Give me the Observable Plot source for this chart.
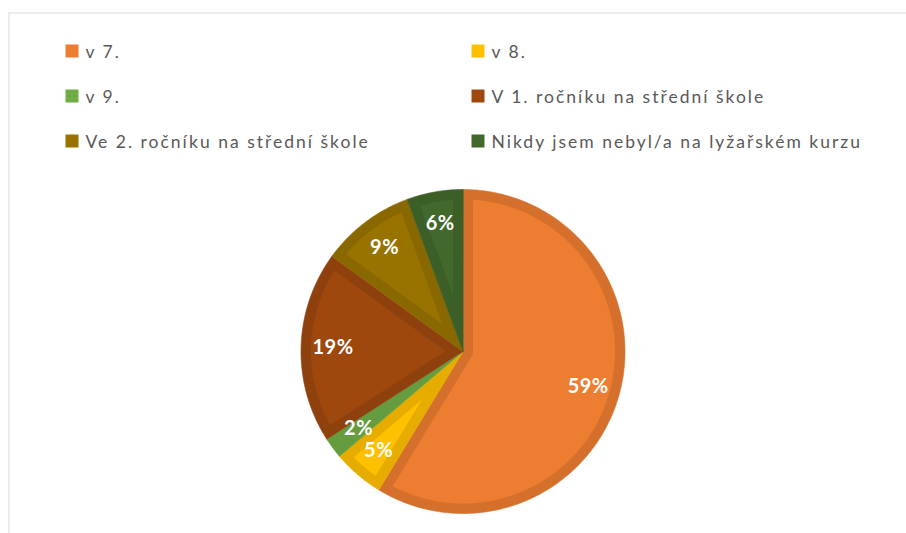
<!DOCTYPE html>
<html>
<head>
<meta charset="utf-8">
<script src="https://cdn.jsdelivr.net/npm/d3@7"></script>
<script src="https://cdn.jsdelivr.net/npm/@observablehq/plot@0.6"></script>
<style>
  html, body { margin: 0; padding: 0; background: #ffffff; }
  #chart svg { display: block; }
</style>
</head>
<body>
<div id="chart"></div>
<script>
// ---- data ----
const categories = [
  "v 7.",
  "v 8.",
  "v 9.",
  "V 1. ročníku na střední škole",
  "Ve 2. ročníku na střední škole",
  "Nikdy jsem nebyl/a na lyžařském kurzu"
];
const values = [58.7, 5.1, 2.1, 19.1, 9.4, 5.6];
const valueLabels = ["59%", "5%", "2%", "19%", "9%", "6%"];
const fillColors = ["#ED7D31", "#FFC000", "#70AD47", "#9E480E", "#997300", "#43682B"];
const borderColors = ["#D5702C", "#E6AD00", "#659C40", "#8E410D", "#8A6800", "#3C5E27"];

// ---- layout ----
const W = 906, H = 533;
const cx = 462.5, cy = 351, R = 162, labelR = 130, inset = 10;

const pie = d3.pie().sort(null).value(d => d.value);
const slices = pie(categories.map((c, i) => ({
  category: c, value: values[i], label: valueLabels[i], border: borderColors[i]
})));

const pt = (a, r) => ({x: cx + r * Math.sin(a), y: cy - r * Math.cos(a)});

// outer wedge polygons
function wedge(a0, a1, r) {
  const pts = [pt(0, 0)];
  const n = Math.max(2, Math.ceil((a1 - a0) / (Math.PI / 180)));
  for (let k = 0; k <= n; k++) pts.push(pt(a0 + (a1 - a0) * k / n, r));
  return pts;
}
// inset (fill) polygons — the wedge shrunk by the border width (miter corner at the apex)
function insetWedge(a0, a1, r, w) {
  const theta = a1 - a0, mid = (a0 + a1) / 2;
  const apexD = w / Math.sin(theta / 2);
  const ri = r - w;
  if (apexD >= ri * 0.97) return null;
  const delta = Math.asin(w / ri);
  const b0 = a0 + delta, b1 = a1 - delta;
  const pts = [pt(mid, apexD)];
  const n = Math.max(2, Math.ceil((b1 - b0) / (Math.PI / 180)));
  for (let k = 0; k <= n; k++) pts.push(pt(b0 + (b1 - b0) * k / n, ri));
  return pts;
}

const outerPts = [];
const innerPts = [];
slices.forEach(s => {
  wedge(s.startAngle, s.endAngle, R).forEach(p => outerPts.push({...p, category: s.data.category}));
  const ip = insetWedge(s.startAngle, s.endAngle, R, inset);
  if (ip) ip.forEach(p => innerPts.push({...p, category: s.data.category}));
});

const labelData = slices.map(s => {
  const a = (s.startAngle + s.endAngle) / 2;
  return {...pt(a, labelR), label: s.data.label};
});

const legend = categories.map((c, i) => ({category: c, col: i % 2, row: Math.floor(i / 2)}));
const legX = col => (col === 0 ? 72 : 478);
const legY = row => 51 + row * 45;
const sq = 6.5;

const chart = Plot.plot({
  width: W,
  height: H,
  margin: 0,
  x: {domain: [0, W], range: [0, W], axis: null},
  y: {domain: [0, H], range: [0, H], axis: null},
  color: {domain: categories, range: fillColors},
  style: {background: "#ffffff", fontFamily: "Lato, 'Open Sans', sans-serif"},
  marks: [
    // chart area border (top and left visible)
    Plot.ruleY([12.5], {x1: 8.5, x2: W, stroke: "#d9d9d9", strokeWidth: 1}),
    Plot.ruleX([8.5], {y1: 12.5, y2: H, stroke: "#d9d9d9", strokeWidth: 1}),
    // legend
    Plot.rect(legend, {
      x1: d => legX(d.col) - sq, x2: d => legX(d.col) + sq,
      y1: d => legY(d.row) - sq, y2: d => legY(d.row) + sq,
      fill: "category"
    }),
    Plot.text(legend, {
      x: d => legX(d.col) + 13, y: d => legY(d.row) + 1,
      text: "category", textAnchor: "start", lineAnchor: "middle",
      fill: "#595959", fontSize: 17.5
    }),
    // pie: darker border wedges, then lighter inset wedges
    ...slices.map((s, i) => Plot.line(outerPts.filter(p => p.category === s.data.category), {
      x: "x", y: "y", fill: borderColors[i], stroke: borderColors[i], strokeWidth: 0.6,
      curve: "linear-closed"
    })),
    Plot.line(innerPts, {
      x: "x", y: "y", z: "category", fill: "category", stroke: "none",
      curve: "linear-closed"
    }),
    Plot.text(labelData, {
      x: "x", y: "y", text: "label",
      fill: "#ffffff", fontSize: 20, fontWeight: "bold"
    })
  ]
});
// legend text is widely spaced in the original rendering
d3.select(chart).selectAll("text")
  .filter(function () { return categories.includes(this.textContent); })
  .style("letter-spacing", "2px");
d3.select(chart).selectAll("text")
  .filter(function () { return valueLabels.includes(this.textContent); })
  .style("letter-spacing", "0.5px");
document.getElementById("chart").append(chart);
</script>
</body>
</html>
